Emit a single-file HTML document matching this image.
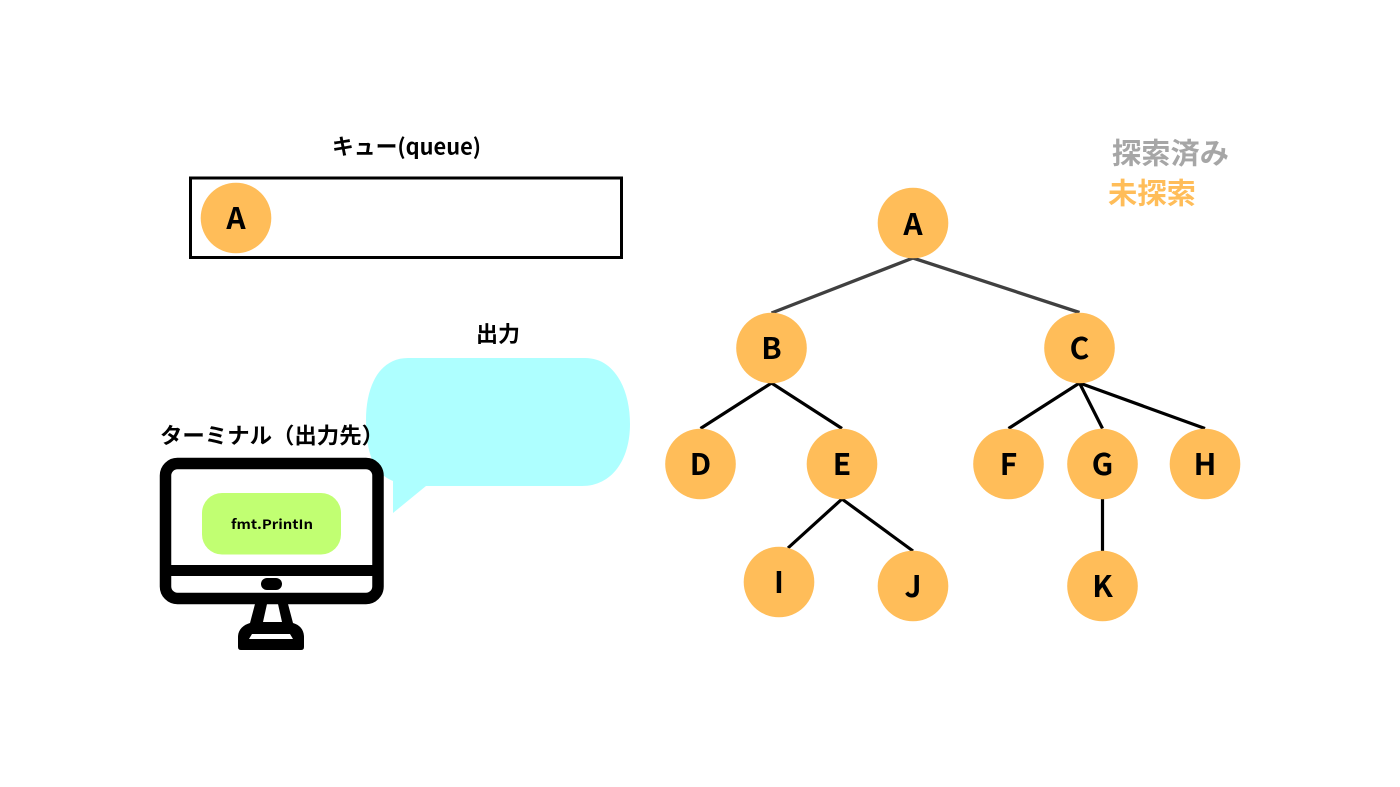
<!DOCTYPE html>
<html lang="ja"><head><meta charset="utf-8"><title>キュー</title>
<style>html,body{margin:0;padding:0;background:#fff}svg{display:block}
text{font-family:"Liberation Sans","Noto Sans CJK JP",sans-serif;font-weight:700}
.j{font-family:"Noto Sans CJK JP",sans-serif;font-weight:700}
.n{font-family:"Noto Sans CJK JP",sans-serif;font-weight:700;font-size:30px;text-anchor:middle;fill:#000}
</style></head><body>
<svg width="1400" height="787" viewBox="0 0 1400 787" xmlns="http://www.w3.org/2000/svg">
<rect width="1400" height="787" fill="#fff"/>
<text class="j" x="332" y="154.5" font-size="22" textLength="149" lengthAdjust="spacingAndGlyphs">キュー(queue)</text>
<rect x="190.5" y="178" width="431" height="79.5" fill="#fff" stroke="#000" stroke-width="3"/>
<circle cx="236" cy="218" r="35.3" fill="#ffbd59"/>
<text class="n" x="236" y="229">A</text>
<text class="j" x="476" y="342" font-size="22" textLength="44" lengthAdjust="spacingAndGlyphs">出力</text>
<path d="M408 358H585C615 358 630 390 630 424C630 460 612 486 582 486H426L393 513V481C375 474 366 455 366 420C366 385 380 358 408 358Z" fill="#aeffff"/>
<text class="j" x="160" y="443.5" font-size="22" textLength="224" lengthAdjust="spacingAndGlyphs">ターミナル（出力先）</text>
<path d="M255 604H288L293 623C300 625 304 630 304 637V647Q304 650 301 650H241Q238 650 238 647V637C238 630 243 625 250 623Z" fill="#000"/>
<path d="M267 604H278L282 622H263Z" fill="#fff"/>
<path d="M252 634H290L293 639H249Z" fill="#fff"/>
<rect x="165.5" y="463.5" width="212.5" height="135" rx="12" fill="#fff" stroke="#000" stroke-width="11.5"/>
<rect x="165" y="565" width="213" height="11" fill="#000"/>
<rect x="261" y="578" width="21" height="12" rx="6" fill="#000"/>
<rect x="202" y="493" width="139" height="61.5" rx="20" fill="#c1ff72"/>
<text class="j" x="231" y="529" font-size="13" textLength="82" lengthAdjust="spacingAndGlyphs">fmt.PrintIn</text>
<text class="j" x="1112" y="163.5" font-size="29" fill="#a6a6a6" textLength="117" lengthAdjust="spacingAndGlyphs">探索済み</text>
<text class="j" x="1108" y="203.5" font-size="29" fill="#ffbd59" textLength="88" lengthAdjust="spacingAndGlyphs">未探索</text>
<g fill="none" stroke="#404040" stroke-width="3.3">
<path d="M771.5 313L913 258L1079.5 312.5"/>
</g>
<g fill="none" stroke="#000" stroke-width="3.2">
<path d="M700.5 428.5L771.5 383L842 428.5"/>
<path d="M1008.5 428.5L1079.5 383L1102.5 428.5"/>
<path d="M1079.5 383L1205 428.5"/>
<path d="M788 548L842 499L913 551"/>
<path d="M1102.5 499V551"/>
</g>
<g fill="#ffbd59">
<circle cx="913" cy="223" r="35.3"/><circle cx="771.5" cy="348" r="35.3"/><circle cx="1079.5" cy="348" r="35.3"/>
<circle cx="700.5" cy="464" r="35.3"/><circle cx="842" cy="464" r="35.3"/><circle cx="1008.5" cy="464" r="35.3"/>
<circle cx="1102.5" cy="464" r="35.3"/><circle cx="1205" cy="464" r="35.3"/><circle cx="779" cy="582" r="35.3"/>
<circle cx="913" cy="586" r="35.3"/><circle cx="1102.5" cy="586" r="35.3"/>
</g>
<text class="n" x="913" y="235">A</text><text class="n" x="771.5" y="359">B</text><text class="n" x="1079.5" y="359">C</text>
<text class="n" x="700.5" y="475">D</text><text class="n" x="842" y="475">E</text><text class="n" x="1008.5" y="475">F</text>
<text class="n" x="1102.5" y="475">G</text><text class="n" x="1205" y="475">H</text><text class="n" x="779" y="593">I</text>
<text class="n" x="913" y="597">J</text><text class="n" x="1102.5" y="597">K</text>
</svg>
</body></html>
